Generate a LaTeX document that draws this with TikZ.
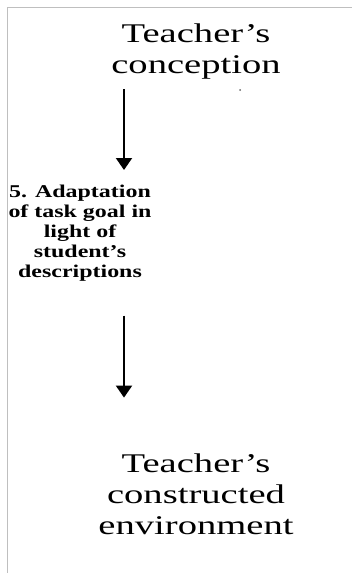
\documentclass[tikz,border=0pt]{standalone}
\usepackage{fontspec}
\usetikzlibrary{arrows.meta}
\newfontfamily\headfont[FakeStretch=1.43]{Liberation Serif}
\newfontfamily\stepfont[FakeStretch=1.33]{Liberation Serif}
\begin{document}
\begin{tikzpicture}[x=1pt,y=-1pt,
  heading/.style={inner sep=0pt, align=center, anchor=north,
    font=\headfont\fontsize{27}{31}\selectfont},
  steplabel/.style={inner sep=0pt, align=center, anchor=north,
    font=\stepfont\bfseries\fontsize{18}{20}\selectfont},
  flow/.style={line width=2pt, -{Triangle[width=16pt,length=12pt]}},
  frame/.style={draw=black!25, line width=1pt}]
\useasboundingbox (0,0) rectangle (352,573);
% frame lines along the top and the left side
\draw[frame] (7.5,573) -- (7.5,7) -- (352,7);
% arrow column
\coordinate (ax) at (124,0);
% text blocks
\node[heading] (conc) at (196,23.6) {Teacher’s\\conception};
\node[steplabel] (adapt) at (80,184.8) {5. Adaptation\\of task goal in\\light of\\student’s\\descriptions};
\node[heading] (env) at (196,453.6) {Teacher’s\\constructed\\environment};
% stray speck under the first heading
\fill[black!60] (240,90) circle (1);
% connectors
\draw[flow, shorten <=10pt, shorten >=14.8pt] (conc.south -| ax) -- (adapt.north -| ax);
\draw[flow, shorten <=34pt, shorten >=56pt] (adapt.south -| ax) -- (env.north -| ax);
\end{tikzpicture}
\end{document}
